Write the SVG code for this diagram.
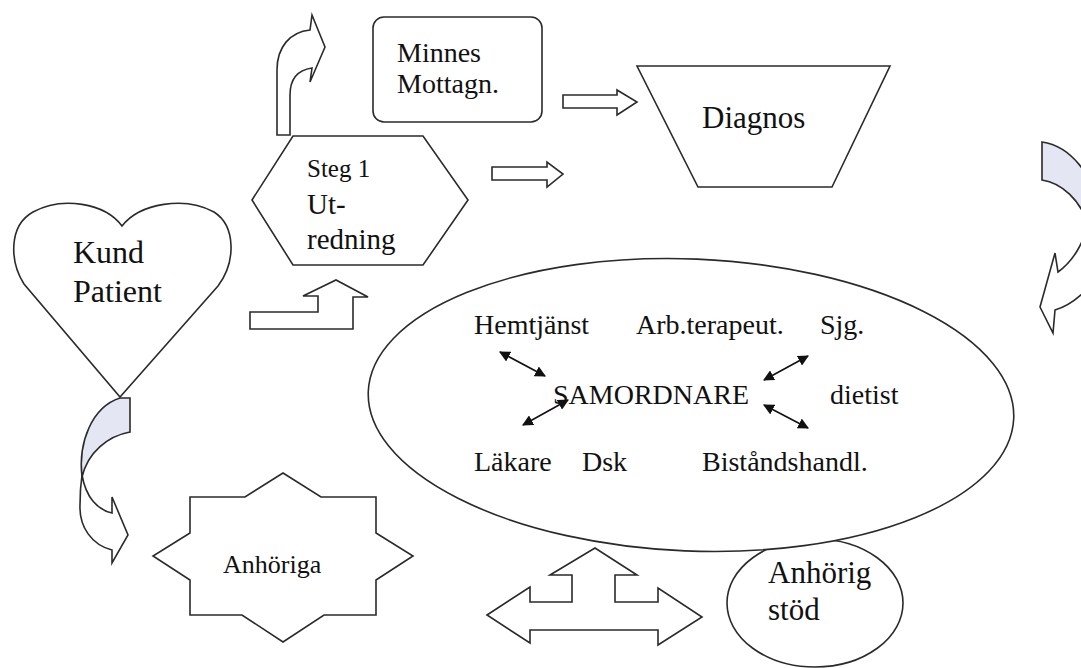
<svg xmlns="http://www.w3.org/2000/svg" width="1081" height="668" viewBox="0 0 1081 668">
<defs>
<style>
.sh{fill:#fff;stroke:#2a2a2a;stroke-width:1.6;stroke-linejoin:miter}
.sd{fill:#e4e6f4;stroke:#2a2a2a;stroke-width:1.6}
.ln{stroke:#111;stroke-width:1.6;fill:none}
text{font-family:'Liberation Serif','DejaVu Serif','Times New Roman',serif;fill:#111}
</style>
<marker id="ah" viewBox="0 0 10 10" refX="9" refY="5" markerWidth="11" markerHeight="11" markerUnits="userSpaceOnUse" orient="auto-start-reverse">
<path d="M0,0 L10,5 L0,10 Z" fill="#111"/>
</marker>
</defs>
<rect width="1081" height="668" fill="#fff"/>

<g id="kund-patient">
<path class="sh" d="M122,226 C105,203 62,196 33,212 C8,226 10,262 24,284 L120,397 L218,286 C236,262 236,226 214,212 C185,196 140,203 122,226 Z"/>
<text x="73" y="263" font-size="32">Kund</text>
<text x="73" y="302" font-size="32">Patient</text>
</g>

<g id="steg1">
<polygon class="sh" points="252,200 293,136 423,136 468,200 423,265 293,265"/>
<text x="307" y="177" font-size="25">Steg 1</text>
<text x="307" y="214" font-size="29">Ut-</text>
<text x="307" y="249" font-size="29">redning</text>
</g>

<g id="minnes">
<rect class="sh" x="373" y="17" width="169" height="105" rx="11"/>
<text x="397" y="62" font-size="28">Minnes</text>
<text x="397" y="93" font-size="28">Mottagn.</text>
</g>

<g id="diagnos">
<polygon class="sh" points="637,66 890,66 832,187 698,187"/>
<text x="702" y="128" font-size="31">Diagnos</text>
</g>

<g id="anhorig-stod">
<ellipse class="sh" cx="815" cy="603" rx="88" ry="64"/>
<text x="768" y="583" font-size="31">Anhörig</text>
<text x="768" y="620" font-size="31">stöd</text>
</g>

<g id="samordnare">
<ellipse class="sh" cx="691" cy="405" rx="323" ry="146" transform="rotate(2.4 691 405)"/>
<text x="474" y="334" font-size="28">Hemtjänst</text>
<text x="636" y="334" font-size="28">Arb.terapeut.</text>
<text x="820" y="334" font-size="28">Sjg.</text>
<text x="553" y="404" font-size="28">SAMORDNARE</text>
<text x="830" y="404" font-size="28">dietist</text>
<text x="474" y="471" font-size="28">Läkare</text>
<text x="582" y="471" font-size="28">Dsk</text>
<text x="702" y="471" font-size="28">Biståndshandl.</text>
</g>

<g id="anhoriga">
<polygon class="sh" points="283,473 321,497 376,497 376,533 413,556 376,580 376,615 324,615 283,642 242,615 190,615 190,580 153,556 190,533 190,497 245,497"/>
<text x="223" y="573" font-size="26">Anhöriga</text>
</g>

<g id="connectors">
<path class="sh" d="M277,135 L277,70 C277,47 290,32 310,30 L312,15 L325,47 L310,82 L312,68 C298,70 290,79 290,95 L290,135 Z"/>
<path class="sh" d="M563,95 L617,95 L617,90 L637,102 L617,115 L617,108 L563,108 Z"/>
<path class="sh" d="M492,167 L547,167 L547,162 L563,174 L547,187 L547,180 L492,180 Z"/>
<path class="sh" d="M250,312 L318,312 L318,296 L303,296 L336,280 L368,297 L353,297 L353,329 L250,329 Z"/>
<path class="sh" d="M82,475 C86,498 98,510 112,513 L112,497 L128,535 L112,563 L112,550 C92,545 79,527 80,505 C80,492 81,482 82,475 Z"/>
<path class="sd" d="M120,398 L130,398 L130,432 C108,436 88,452 82,477 C78,442 92,407 120,398 Z"/>
<path class="sh" d="M1088,222 C1084,244 1072,262 1058,272 L1055,253 L1040,307 L1053,333 L1055,310 C1072,305 1090,290 1102,268 L1102,200 Z"/>
<path class="sd" d="M1042,142 L1042,180 C1062,183 1080,200 1088,224 L1100,215 C1094,174 1070,146 1042,142 Z"/>
<path class="sh" d="M487,615 L530,587 L530,602 L572,602 L572,575 L550,575 L595,548 L637,575 L615,575 L615,602 L658,602 L658,588 L702,617 L658,645 L658,630 L530,630 L530,643 Z"/>
<line class="ln" x1="500" y1="352" x2="545" y2="376" marker-start="url(#ah)" marker-end="url(#ah)"/>
<line class="ln" x1="523" y1="425" x2="568" y2="400" marker-start="url(#ah)" marker-end="url(#ah)"/>
<line class="ln" x1="808" y1="356" x2="764" y2="380" marker-start="url(#ah)" marker-end="url(#ah)"/>
<line class="ln" x1="764" y1="405" x2="808" y2="428" marker-start="url(#ah)" marker-end="url(#ah)"/>
</g>
</svg>
